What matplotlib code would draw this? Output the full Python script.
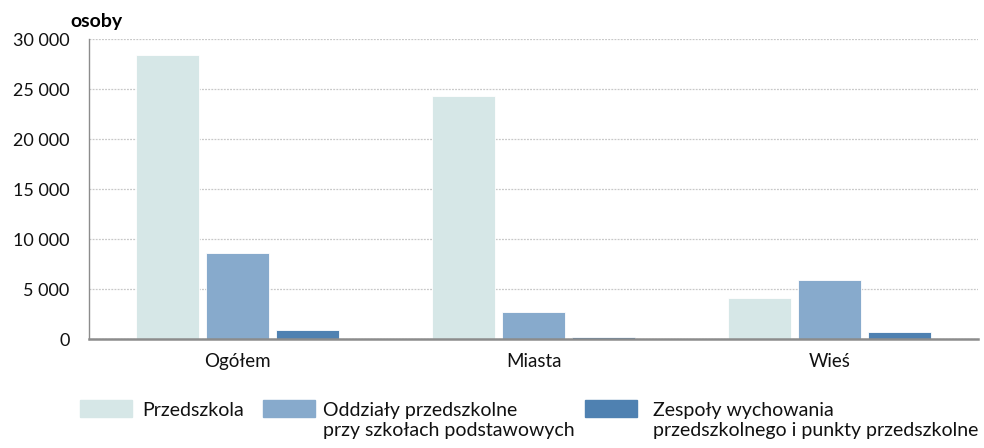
import numpy as np
import matplotlib.pyplot as plt
from matplotlib.patches import Rectangle
from matplotlib.ticker import FuncFormatter

plt.rcParams['font.family'] = ['Lato', 'DejaVu Sans']

categories = ['Ogółem', 'Miasta', 'Wieś']
series_names = ['Przedszkola',
                'Oddziały przedszkolne\nprzy szkołach podstawowych',
                'Zespoły wychowania\nprzedszkolnego i punkty przedszkolne']
przedszkola = [28400, 24300, 4100]
oddzialy = [8600, 2700, 5950]
zespoly = [930, 250, 700]
colors = ['#d6e7e7', '#87aacc', '#4f81b1']

fig = plt.figure(figsize=(9.84, 4.48), dpi=100)
ax = fig.add_axes([89 / 984, 1 - 339 / 448, 889 / 984, 300 / 448])

x = np.arange(len(categories))
width = 0.213
step = 0.236
for i, (vals, col) in enumerate(zip([przedszkola, oddzialy, zespoly], colors)):
    ax.bar(x + (i - 1) * step, vals, width, color=col, edgecolor='white',
           linewidth=0.6, zorder=3)

ax.set_xlim(-0.5, 2.5)
ax.set_ylim(0, 30000)
ax.set_yticks(np.arange(0, 30001, 5000))
ax.yaxis.set_major_formatter(FuncFormatter(lambda v, p: f'{int(v):,}'.replace(',', ' ')))
ax.set_xticks(x)
ax.set_xticklabels(categories)
ax.tick_params(axis='y', length=0, pad=14, labelsize=13, colors='#111111')
ax.tick_params(axis='x', length=0, pad=10, labelsize=13.5, colors='#111111')
ax.grid(axis='y', color='#c8c8c8', linestyle=(0, (1.5, 1)), linewidth=0.9, zorder=0)

for s in ['top', 'right']:
    ax.spines[s].set_visible(False)
ax.spines['left'].set_color('#8c8c8c')
ax.spines['left'].set_linewidth(1.0)
ax.spines['bottom'].set_color('#8c8c8c')
ax.spines['bottom'].set_linewidth(1.8)
ax.spines['bottom'].set_zorder(4)

fig.text(70 / 984, 1 - 22 / 448, 'osoby', fontsize=14, fontweight='bold',
         va='center', ha='left')

# legend drawn by hand below the axes
legend_x = [(80, 142), (263, 323), (585, 653)]
for (px, tx), name, col in zip(legend_x, series_names, colors):
    fig.add_artist(Rectangle((px / 984, 1 - 417 / 448), 52 / 984, 17 / 448,
                             transform=fig.transFigure, color=col))
    fig.text(tx / 984, 1 - 402 / 448, name, fontsize=14, va='top', ha='left',
             linespacing=1.2, color='#111111')

fig.savefig('out.png', dpi=100)
